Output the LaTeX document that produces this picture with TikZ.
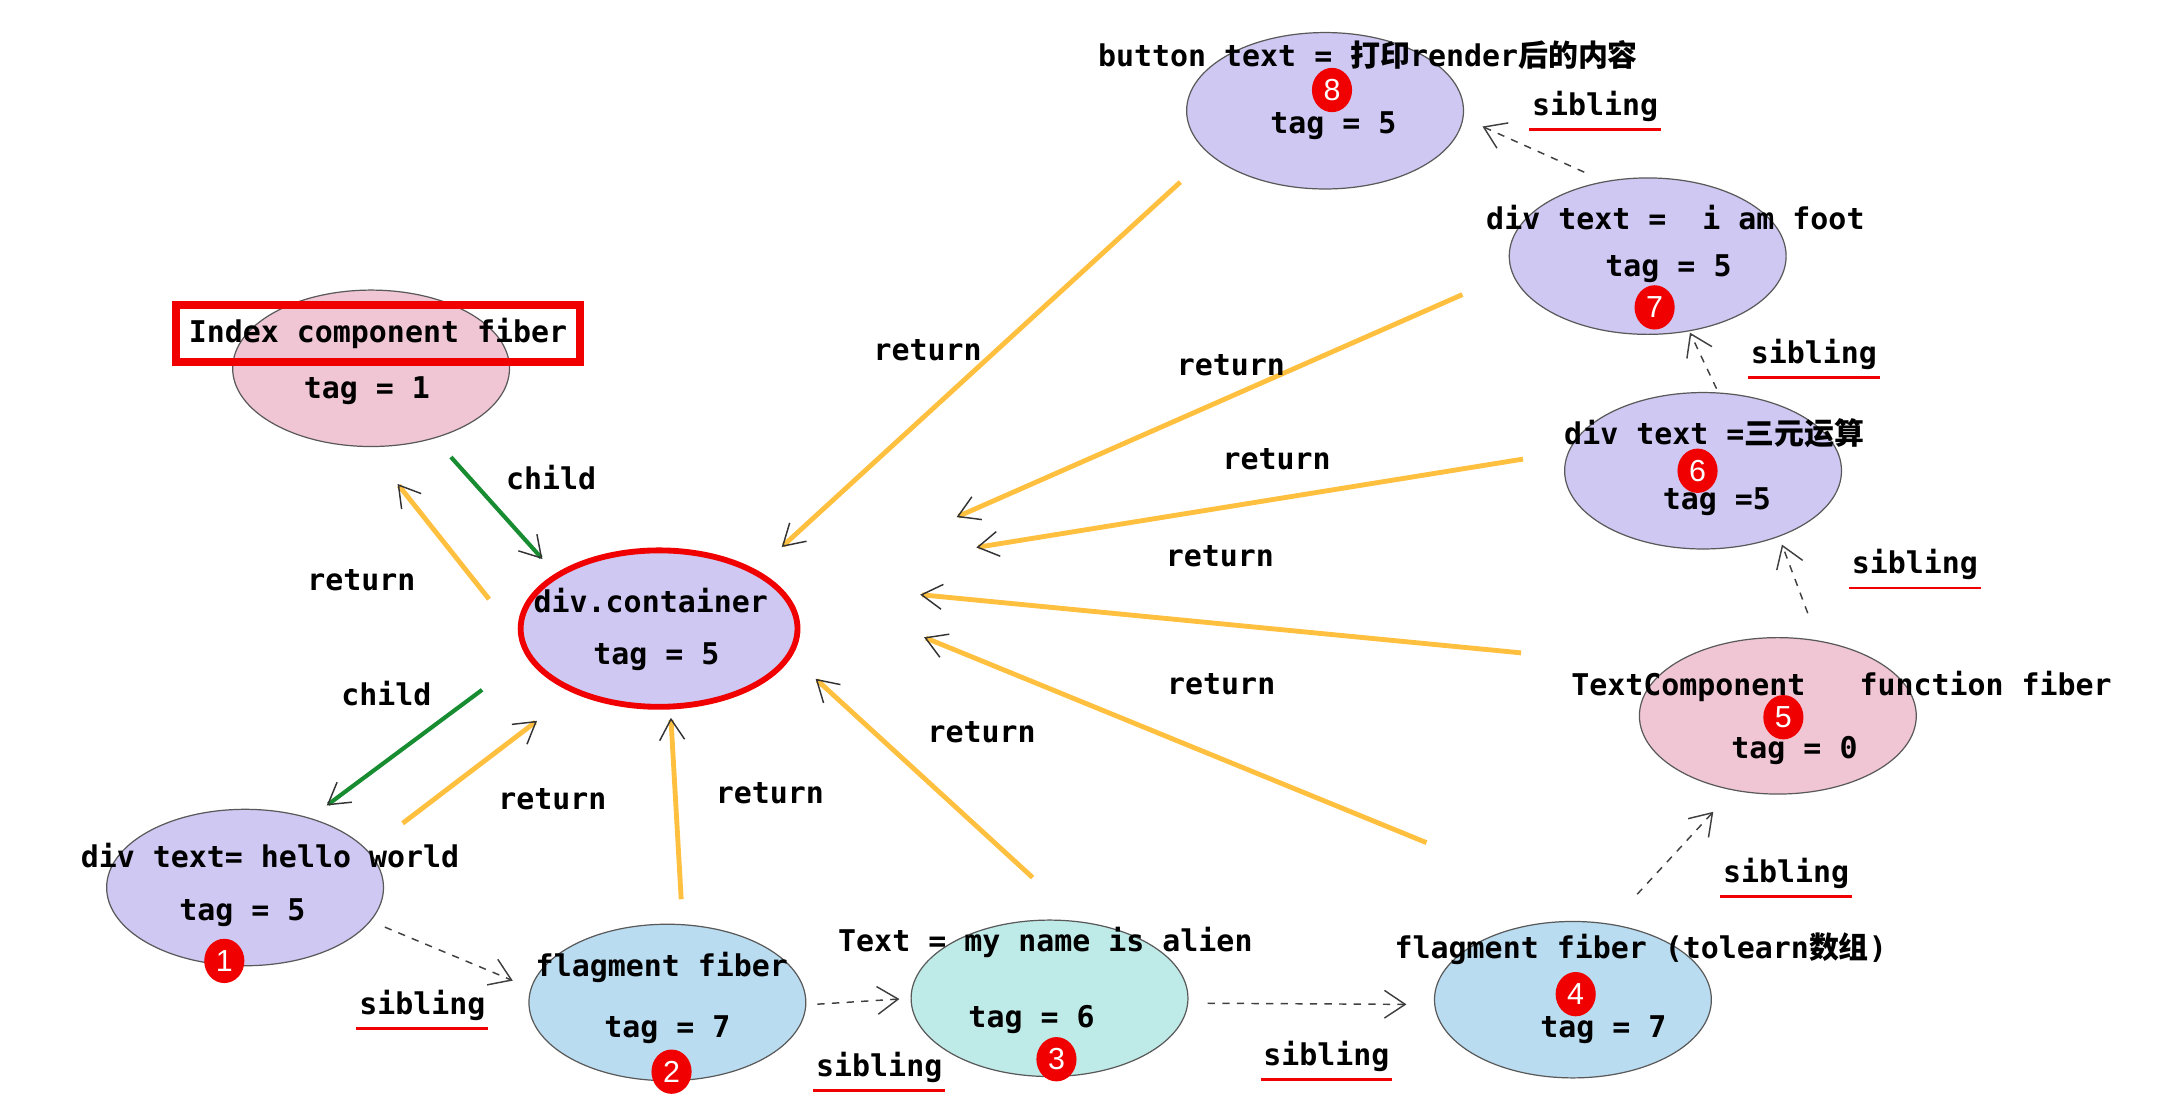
\documentclass[tikz,border=0pt]{standalone}
\usepackage{fontspec}
\setmonofont{DejaVu Sans Mono}
\setsansfont{Liberation Sans}
\newfontfamily\cjk{Noto Sans CJK SC}
\usetikzlibrary{arrows.meta,shapes.geometric}
\definecolor{fibpurple}{RGB}{206,200,242}
\definecolor{fibpink}{RGB}{240,198,212}
\definecolor{fibblue}{RGB}{186,220,240}
\definecolor{fibcyan}{RGB}{190,234,232}
\definecolor{retyellow}{RGB}{255,192,64}
\definecolor{childgreen}{RGB}{24,140,48}
\definecolor{markred}{RGB}{240,0,0}

\begin{document}
\begin{tikzpicture}[x=0.02cm,y=-0.02cm,
  fib/.style={ellipse,draw=black!65,line width=0.5pt,minimum width=4cm,minimum height=2.26cm,inner sep=0pt},
  txt/.style={font=\ttfamily\bfseries\fontsize{12.3}{15}\selectfont,inner sep=1pt},
  badge/.style={ellipse,fill=markred,text=white,font=\sffamily\fontsize{12.5}{13}\selectfont,minimum width=0.58cm,minimum height=0.64cm,inner sep=0pt},
  ret/.style={retyellow,line width=2pt,-{Straight Barb[length=3mm,width=3.6mm,color=black!80,line width=0.6pt]}},
  kid/.style={childgreen,line width=1.7pt,-{Straight Barb[length=3mm,width=3.6mm,color=black!80,line width=0.6pt]}},
  sib/.style={black!75,dashed,line width=0.6pt,-{Straight Barb[length=3mm,width=4mm,line width=0.6pt]}},
  uline/.style={markred,line width=1.2pt}]
\useasboundingbox (0,0) rectangle (1560,790);

\node[fib,fill=fibpink] (idx) at (268,266) {};
\node[fib,fill=fibpurple,draw=markred,line width=2.4pt] (cont) at (476,454) {};
\node[fib,fill=fibpurple] (n1) at (177,641) {};
\node[fib,fill=fibblue] (n2) at (482,724) {};
\node[fib,fill=fibcyan] (n3) at (758,721) {};
\node[fib,fill=fibblue] (n4) at (1136,722) {};
\node[fib,fill=fibpink] (n5) at (1284,517) {};
\node[fib,fill=fibpurple] (n6) at (1230,340) {};
\node[fib,fill=fibpurple] (n7) at (1190,185) {};
\node[fib,fill=fibpurple] (n8) at (957,80) {};

\draw[kid,shorten <=0.36cm,shorten >=0.28cm] (idx.-48) -- (cont.152);
\draw[ret,shorten <=0.68cm,shorten >=0.68cm] (cont.-177) -- (idx.-92);
\draw[kid,shorten <=0.8cm,shorten >=0.3cm] (cont.-168) -- (n1.47.5);
\draw[ret,shorten <=0.64cm,shorten >=0.66cm] (n1.17.6) -- (cont.-143);
\draw[ret,shorten <=0.36cm,shorten >=0.12cm] (n2.79) -- (cont.-82);
\draw[ret,shorten <=0.94cm,shorten >=0.47cm] (n3.68) -- (cont.-12);
\draw[ret,shorten <=3.56cm,shorten >=2.86cm] (n4.38) -- (cont.39);
\draw[ret,shorten <=2.14cm,shorten >=2.14cm] (n5.156) -- (cont.23);
\draw[ret,shorten <=0.66cm,shorten >=2.98cm] (n6.172) -- (cont.23);
\draw[ret,shorten <=0.78cm,shorten >=2.7cm] (n7.-173) -- (cont.16);
\draw[ret,shorten <=0.58cm,shorten >=0.49cm] (n8.-159) -- (cont.31);

\draw[sib,shorten <=0.22cm,shorten >=0.28cm] (n1.-15.5) -- (n2.174);
\draw[sib,shorten <=0.16cm,shorten >=0.16cm] (n2.-1) -- (n3.180);
\draw[sib,shorten <=0.28cm,shorten >=0.4cm] (n3.-2) -- (n4.-178);
\draw[sib,shorten <=0.58cm,shorten >=0.42cm] (n4.64) -- (n5.-121.5);
\draw[sib,shorten <=0.42cm,shorten >=0.12cm] (n5.62) -- (n6.-41);
\draw[sib,shorten <=0.06cm,shorten >=0.02cm] (n6.79) -- (n7.-61);
\draw[sib,shorten <=0.32cm,shorten >=0.3cm] (n7.120) -- (n8.-3.5);

\node[txt,draw=markred,line width=3.2pt,minimum width=5.84cm,minimum height=0.82cm] (idxname) at (273,241) {Index component fiber};
\node[txt] (idxtag) at (265,282) {tag = 1};
\node[txt] (contname) at (470,434) {div.container};
\node[txt] (conttag) at (474,474) {tag = 5};
\node[txt] (n1name) at (195,618) {div text= hello world};
\node[txt] (n1tag) at (175,659) {tag = 5};
\node[txt] (n2name) at (478,699) {flagment fiber};
\node[txt] (n2tag) at (482,744) {tag = 7};
\node[txt] (n3name) at (755,681) {Text = my name is alien};
\node[txt] (n3tag) at (745,736) {tag = 6};
\node[txt] (n4name) at (1185,685) {flagment fiber (tolearn{\cjk 数组})};
\node[txt] (n4tag) at (1158,744) {tag = 7};
\node[txt] (n5name) at (1330,496) {TextComponent~~ function fiber};
\node[txt] (n5tag) at (1296,542) {tag = 0};
\node[txt] (n6name) at (1238,313) {div text ={\cjk 三元运算}};
\node[txt] (n6tag) at (1240,362) {tag =5};
\node[txt] (n7name) at (1210,157) {div text =~ i am foot};
\node[txt] (n7tag) at (1205,194) {tag = 5};
\node[txt] (n8name) at (988,40) {button text = {\cjk 打印}render{\cjk 后的内容}};
\node[txt] (n8tag) at (963,91) {tag = 5};

\node[badge] (b1) at (162,694) {1};
\node[badge] (b2) at (485,774) {2};
\node[badge] (b3) at (763,765) {3};
\node[badge] (b4) at (1138,718) {4};
\node[badge] (b5) at (1288,518) {5};
\node[badge] (b6) at (1226,340) {6};
\node[badge] (b7) at (1195,222) {7};
\node[badge] (b8) at (962,65) {8};

\node[txt] (lchild1) at (398,345) {child};
\node[txt] (lchild2) at (279,501) {child};
\node[txt] (lret0) at (261,419) {return};
\node[txt] (lret1) at (399,577) {return};
\node[txt] (lret2) at (556,573) {return};
\node[txt] (lret3) at (709,529) {return};
\node[txt] (lret4) at (882,494) {return};
\node[txt] (lret5) at (881,402) {return};
\node[txt] (lret6) at (922,332) {return};
\node[txt] (lret7) at (889,264) {return};
\node[txt] (lret8) at (670,253) {return};

\node[txt] (sb1) at (305,726) {sibling};
\node[txt] (sb2) at (635,771) {sibling};
\node[txt] (sb3) at (958,763) {sibling};
\node[txt] (sb4) at (1290,631) {sibling};
\node[txt] (sb5) at (1383,408) {sibling};
\node[txt] (sb6) at (1310,256) {sibling};
\node[txt] (sb7) at (1152,77) {sibling};
\foreach \s in {sb1,sb2,sb3,sb4,sb5,sb6,sb7}
  \draw[uline] ([yshift=-2pt]\s.south west) -- ([yshift=-2pt]\s.south east);
\end{tikzpicture}
\end{document}
